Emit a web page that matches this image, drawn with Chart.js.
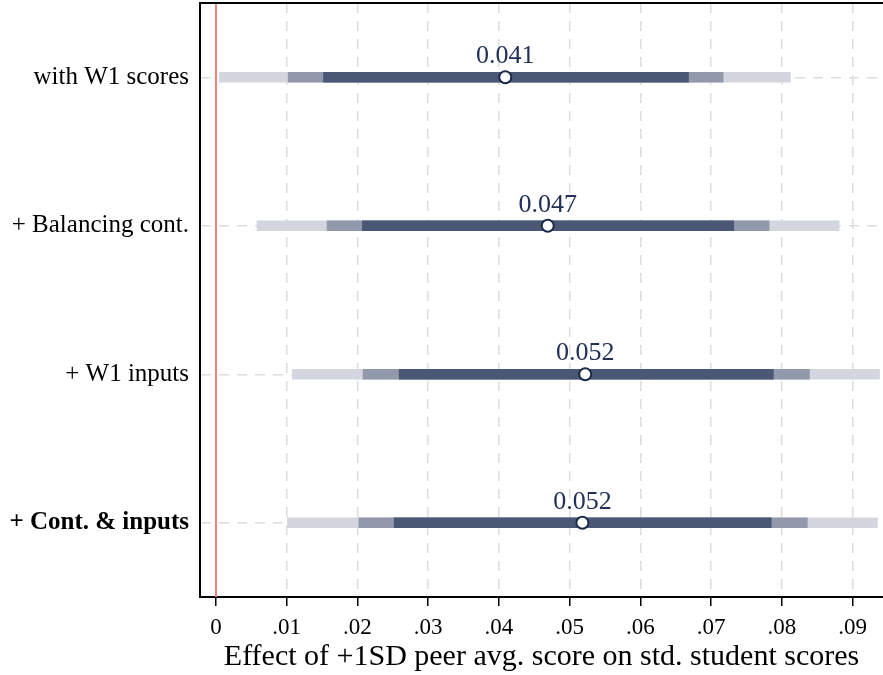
<!DOCTYPE html>
<html>
<head>
<meta charset="utf-8">
<script src="https://cdn.jsdelivr.net/npm/chart.js@4/dist/chart.umd.min.js"></script>
<style>
  body { margin: 0; background: #fff; }
  #box { width: 883px; height: 675px; }
</style>
</head>
<body>
<div id="box"><canvas id="coefChart"></canvas></div>
<script>
const models = ['with W1 scores', '+ Balancing cont.', '+ W1 inputs', '+ Cont. & inputs'];
const estimates = [0.0409, 0.0469, 0.0522, 0.0518];
// three confidence bands, outer to inner
const outerLow = [0.0005, 0.0058, 0.0108, 0.0101];
const outerHigh = [0.0812, 0.0881, 0.0938, 0.0935];
const midLow = [0.0102, 0.0157, 0.0208, 0.0202];
const midHigh = [0.0717, 0.0782, 0.0839, 0.0836];
const innerLow = [0.0152, 0.0207, 0.0259, 0.0252];
const innerHigh = [0.0668, 0.0732, 0.0788, 0.0785];
const tickValues = [0, 0.01, 0.02, 0.03, 0.04, 0.05, 0.06, 0.07, 0.08, 0.09];
const tickLabels = ['0', '.01', '.02', '.03', '.04', '.05', '.06', '.07', '.08', '.09'];

const serif = '"Liberation Serif", "DejaVu Serif", serif';

function band(lo, hi) {
    return lo.map((v, i) => [v, hi[i]]);
}

const zeroLine = {
    id: 'zeroLine',
    beforeDatasetsDraw(chart) {
        const x = chart.scales.x.getPixelForValue(0);
        const area = chart.chartArea;
        const ctx = chart.ctx;
        ctx.save();
        ctx.strokeStyle = 'rgb(240, 128, 128)';
        ctx.lineWidth = 2;
        ctx.beginPath();
        ctx.moveTo(x, area.top);
        ctx.lineTo(x, area.bottom);
        ctx.stroke();
        // top frame line
        ctx.strokeStyle = '#000';
        ctx.lineWidth = 2;
        ctx.beginPath();
        ctx.moveTo(area.left - 1, area.top);
        ctx.lineTo(area.right, area.top);
        ctx.stroke();
        ctx.restore();
    }
};

const pointLabels = {
    id: 'pointLabels',
    afterDatasetsDraw(chart) {
        const ctx = chart.ctx;
        ctx.save();
        ctx.font = '26px ' + serif;
        ctx.fillStyle = 'rgb(34, 48, 88)';
        ctx.textAlign = 'center';
        ctx.textBaseline = 'alphabetic';
        estimates.forEach((v, i) => {
            const x = chart.scales.x.getPixelForValue(v);
            const y = chart.scales.y.getPixelForValue(i);
            ctx.fillText(v.toFixed(3), x, y - 14);
        });
        ctx.restore();
    }
};

new Chart(document.getElementById('coefChart'), {
    type: 'bar',
    data: {
        labels: models,
        datasets: [
            {
                type: 'line',
                data: estimates.map((v, i) => ({ x: v, y: models[i] })),
                showLine: false,
                pointRadius: 6,
                pointBorderWidth: 2,
                pointBackgroundColor: '#fff',
                pointBorderColor: 'rgb(28, 42, 74)',
                order: 0
            },
            {
                data: band(innerLow, innerHigh),
                backgroundColor: 'rgb(74, 88, 118)',
                barThickness: 10,
                grouped: false,
                order: 1
            },
            {
                data: band(midLow, midHigh),
                backgroundColor: 'rgb(145, 153, 171)',
                barThickness: 10,
                grouped: false,
                order: 2
            },
            {
                data: band(outerLow, outerHigh),
                backgroundColor: 'rgb(211, 214, 223)',
                barThickness: 10,
                grouped: false,
                order: 3
            }
        ]
    },
    options: {
        indexAxis: 'y',
        responsive: true,
        maintainAspectRatio: false,
        animation: false,
        layout: { autoPadding: false, padding: { top: 3, right: 0, left: 0, bottom: 0 } },
        plugins: {
            legend: { display: false },
            tooltip: { enabled: false }
        },
        scales: {
            x: {
                type: 'linear',
                min: -0.00226,
                max: 0.0943,
                afterBuildTicks: scale => {
                    scale.ticks = tickValues.map(v => ({ value: v }));
                },
                afterFit: scale => {
                    scale.height = 78;
                    scale.paddingLeft = 0;
                    scale.paddingRight = 0;
                },
                grid: {
                    color: 'rgb(221, 221, 221)',
                    lineWidth: 1.5,
                    tickColor: '#000',
                    tickWidth: 1.5,
                    tickLength: 9
                },
                border: { color: '#000', width: 2, dash: [10, 8] },
                ticks: {
                    color: '#000',
                    padding: 8,
                    font: { family: serif, size: 23 },
                    callback: (v, i) => tickLabels[i]
                },
                title: {
                    display: true,
                    text: 'Effect of +1SD peer avg. score on std. student scores',
                    color: '#000',
                    font: { family: serif, size: 30 },
                    padding: { top: 0, bottom: 0 }
                }
            },
            y: {
                type: 'category',
                offset: true,
                afterFit: scale => {
                    scale.width = 200;
                    scale.paddingTop = 0;
                    scale.paddingBottom = 0;
                },
                grid: {
                    offset: false,
                    drawTicks: false,
                    color: 'rgb(221, 221, 221)',
                    lineWidth: 1.5
                },
                border: { color: '#000', width: 2, dash: [10, 8] },
                ticks: {
                    color: '#000',
                    padding: 11,
                    font: ctx => ({
                        family: serif,
                        size: 25,
                        weight: ctx.index === models.length - 1 ? 'bold' : 'normal'
                    })
                }
            }
        }
    },
    plugins: [zeroLine, pointLabels]
});
</script>
</body>
</html>
